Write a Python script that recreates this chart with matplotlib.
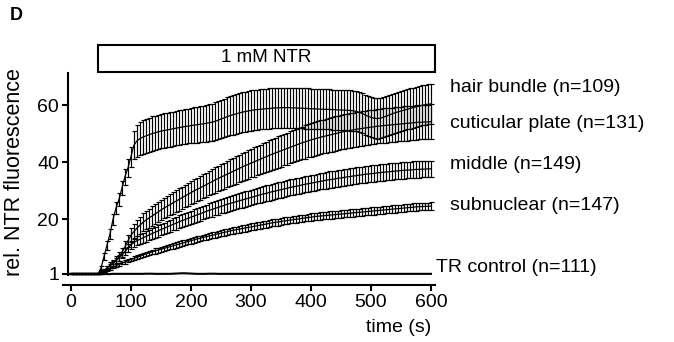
import numpy as np
import matplotlib
matplotlib.use("Agg")
import matplotlib.pyplot as plt
from matplotlib.patches import Rectangle
from matplotlib.transforms import blended_transform_factory

plt.rcParams['font.family'] = ['Liberation Sans', 'DejaVu Sans']

# time base: one frame every 5 s
time_s = np.arange(0, 605, 5)

hair_bundle = [
    1.0, 1.0, 1.0, 1.0, 1.0, 1.0, 1.0, 1.0, 1.0, 1.0,
    3, 7, 11, 15, 20, 24, 27, 31, 35, 38,
    42, 46, 47.5, 48.3, 48.8, 49.2, 49.6, 50, 50.3, 50.6,
    50.9, 51.1, 51.3, 51.5, 51.7, 51.9, 52.1, 52.3, 52.5, 52.6,
    52.8, 53, 53.1, 53.3, 53.4, 53.6, 53.8, 54, 54.3, 54.7,
    55.1, 55.5, 55.9, 56.3, 56.6, 56.9, 57.2, 57.5, 57.7, 57.9,
    58.1, 58.3, 58.4, 58.5, 58.6, 58.7, 58.8, 58.9, 59, 59,
    59.1, 59.1, 59.1, 59.1, 59, 59, 58.9, 58.9, 58.8, 58.8,
    58.7, 58.7, 58.6, 58.6, 58.5, 58.5, 58.5, 58.4, 58.4, 58.3,
    58.3, 58.2, 58.2, 58.1, 58, 57.8, 57.5, 57.1, 56.6, 56.1,
    55.7, 55.4, 55.3, 55.4, 55.7, 56.1, 56.5, 56.9, 57.3, 57.6,
    57.9, 58.2, 58.5, 58.8, 59.1, 59.4, 59.6, 59.9, 60.1, 60.3,
    60.4,
]
hair_bundle_err = [
    0.2, 0.2, 0.2, 0.2, 0.2, 0.2, 0.2, 0.2, 0.2, 0.2,
    0.8, 1.2, 1.5, 1.8, 2, 2.2, 2.4, 2.6, 2.8, 3,
    3.5, 5, 5.5, 5.8, 6, 6, 6, 6, 6, 6,
    6, 6, 6, 6, 6, 6, 6, 6, 6, 6,
    6.2, 6.2, 6.3, 6.3, 6.4, 6.4, 6.5, 6.5, 6.6, 6.6,
    6.7, 6.7, 6.8, 6.8, 6.9, 6.9, 7, 7, 7, 7,
    7, 7, 7, 7, 7, 7, 7, 7, 7, 7,
    7, 7, 7, 7, 7, 7, 7, 7, 7, 7,
    7, 7, 7, 7, 7, 7, 7, 7, 7, 7,
    7, 7, 7, 7, 7, 7, 7, 7, 7, 7,
    7, 7, 7, 7, 7, 7, 7, 7, 7, 7,
    7, 7, 7, 7, 7, 7, 7, 7, 7, 7,
    7,
]

cuticular_plate = [
    1.0, 1.0, 1.0, 1.0, 1.0, 1.0, 1.0, 1.0, 1.0, 1.0,
    1.5, 2, 3, 4, 4.8, 5.8, 7, 8.5, 10.5, 12.5,
    14.5, 15.8, 17, 18, 19, 19.8, 20.5, 21.2, 21.9, 22.6,
    23.3, 24, 24.6, 25.2, 25.8, 26.4, 27, 27.6, 28.2, 28.8,
    29.4, 30, 30.5, 31, 31.6, 32.1, 32.7, 33.2, 33.8, 34.3,
    34.8, 35.3, 35.8, 36.3, 36.8, 37.3, 37.8, 38.3, 38.8, 39.2,
    39.7, 40.1, 40.6, 41, 41.5, 41.9, 42.4, 42.8, 43.2, 43.6,
    44, 44.4, 44.8, 45.2, 45.6, 46, 46.4, 46.8, 47.1, 47.5,
    47.8, 48.1, 48.4, 48.7, 49, 49.2, 49.5, 49.7, 50, 50.2,
    50.5, 50.7, 50.9, 51.1, 51.3, 51.5, 51.7, 51.8, 52, 52.1,
    52.3, 52.4, 52.6, 52.7, 52.8, 52.9, 53, 53.1, 53.2, 53.3,
    53.4, 53.5, 53.6, 53.7, 53.8, 53.9, 54, 54, 54.1, 54.1,
    54.2,
]
cuticular_plate_err = [
    0.2, 0.2, 0.2, 0.2, 0.2, 0.2, 0.2, 0.2, 0.2, 0.2,
    0.5, 0.6, 0.8, 1, 1.1, 1.3, 1.5, 1.7, 2, 2.2,
    2.5, 2.7, 2.9, 3, 3.1, 3.2, 3.3, 3.4, 3.5, 3.5,
    3.6, 3.6, 3.7, 3.7, 3.8, 3.8, 3.9, 3.9, 4, 4,
    4, 4.1, 4.1, 4.2, 4.2, 4.3, 4.3, 4.4, 4.4, 4.5,
    4.5, 4.6, 4.6, 4.7, 4.7, 4.8, 4.8, 4.9, 4.9, 5,
    5, 5.1, 5.1, 5.2, 5.2, 5.3, 5.3, 5.4, 5.4, 5.5,
    5.5, 5.5, 5.6, 5.6, 5.6, 5.7, 5.7, 5.7, 5.8, 5.8,
    5.8, 5.8, 5.9, 5.9, 5.9, 5.9, 6, 6, 6, 6,
    6, 6, 6, 6, 6, 6, 6, 6, 6, 6,
    6, 6, 6, 6, 6, 6, 6, 6, 6, 6,
    6, 6, 6, 6, 6, 6, 6, 6, 6, 6,
    6,
]

middle = [
    1.0, 1.0, 1.0, 1.0, 1.0, 1.0, 1.0, 1.0, 1.0, 1.0,
    1.5, 2.2, 3, 3.8, 4.7, 5.6, 6.6, 7.7, 8.8, 10,
    11.2, 12, 12.6, 13.1, 13.6, 14.1, 14.6, 15.1, 15.5, 16,
    16.5, 16.9, 17.4, 17.8, 18.3, 18.7, 19.2, 19.6, 20, 20.4,
    20.8, 21.2, 21.6, 22, 22.4, 22.8, 23.2, 23.5, 23.9, 24.2,
    24.6, 24.9, 25.3, 25.6, 25.9, 26.2, 26.5, 26.8, 27.1, 27.4,
    27.7, 28, 28.3, 28.6, 28.9, 29.1, 29.4, 29.7, 29.9, 30.2,
    30.4, 30.7, 30.9, 31.2, 31.4, 31.6, 31.8, 32.1, 32.3, 32.5,
    32.7, 32.9, 33.1, 33.3, 33.5, 33.7, 33.9, 34, 34.2, 34.4,
    34.5, 34.7, 34.9, 35, 35.2, 35.3, 35.5, 35.6, 35.8, 35.9,
    36, 36.1, 36.3, 36.4, 36.5, 36.6, 36.7, 36.8, 36.9, 37,
    37.1, 37.2, 37.3, 37.3, 37.4, 37.5, 37.5, 37.6, 37.6, 37.7,
    37.7,
]
middle_err = [
    0.2, 0.2, 0.2, 0.2, 0.2, 0.2, 0.2, 0.2, 0.2, 0.2,
    0.4, 0.5, 0.6, 0.7, 0.8, 0.9, 1, 1.1, 1.2, 1.3,
    1.4, 1.5, 1.6, 1.7, 1.8, 1.8, 1.9, 1.9, 2, 2,
    2, 2, 2.1, 2.1, 2.1, 2.2, 2.2, 2.2, 2.3, 2.3,
    2.3, 2.3, 2.4, 2.4, 2.4, 2.4, 2.5, 2.5, 2.5, 2.5,
    2.5, 2.5, 2.6, 2.6, 2.6, 2.6, 2.6, 2.7, 2.7, 2.7,
    2.7, 2.7, 2.7, 2.7, 2.7, 2.8, 2.8, 2.8, 2.8, 2.8,
    2.8, 2.8, 2.8, 2.8, 2.8, 2.8, 2.8, 2.8, 2.8, 2.8,
    2.8, 2.8, 2.8, 2.8, 2.9, 2.9, 2.9, 2.9, 2.9, 2.9,
    2.9, 2.9, 2.9, 2.9, 2.9, 2.9, 2.9, 2.9, 2.9, 2.9,
    2.9, 2.9, 2.9, 2.9, 2.9, 2.9, 2.9, 2.9, 2.9, 2.9,
    2.9, 2.9, 2.9, 2.9, 2.9, 2.9, 2.9, 2.9, 2.9, 2.9,
    2.9,
]

subnuclear = [
    1.0, 1.0, 1.0, 1.0, 1.0, 1.0, 1.0, 1.0, 1.0, 1.0,
    1.3, 1.8, 2.3, 2.8, 3.3, 3.8, 4.3, 4.8, 5.2, 5.6,
    6, 6.4, 6.8, 7.2, 7.6, 8, 8.3, 8.7, 9, 9.3,
    9.6, 9.9, 10.2, 10.5, 10.8, 11.1, 11.4, 11.7, 12, 12.3,
    12.6, 12.9, 13.2, 13.4, 13.7, 14, 14.2, 14.5, 14.7, 15,
    15.2, 15.5, 15.7, 16, 16.2, 16.4, 16.6, 16.8, 17, 17.2,
    17.4, 17.6, 17.8, 18, 18.2, 18.4, 18.6, 18.8, 19, 19.1,
    19.3, 19.5, 19.6, 19.8, 19.9, 20.1, 20.2, 20.4, 20.5, 20.7,
    20.8, 21, 21.1, 21.2, 21.3, 21.4, 21.5, 21.6, 21.7, 21.8,
    21.9, 22, 22.1, 22.2, 22.3, 22.4, 22.5, 22.6, 22.7, 22.8,
    22.9, 23, 23.1, 23.2, 23.3, 23.4, 23.5, 23.6, 23.7, 23.8,
    23.9, 24, 24.1, 24.2, 24.3, 24.4, 24.5, 24.5, 24.6, 24.6,
    24.7,
]
subnuclear_err = [
    0.1, 0.1, 0.1, 0.1, 0.1, 0.1, 0.1, 0.1, 0.1, 0.1,
    0.2, 0.3, 0.3, 0.4, 0.4, 0.5, 0.5, 0.5, 0.6, 0.6,
    0.6, 0.7, 0.7, 0.7, 0.8, 0.8, 0.8, 0.8, 0.9, 0.9,
    0.9, 0.9, 0.9, 0.9, 1, 1, 1, 1, 1, 1,
    1, 1, 1, 1, 1, 1.1, 1.1, 1.1, 1.1, 1.1,
    1.1, 1.1, 1.1, 1.1, 1.1, 1.1, 1.2, 1.2, 1.2, 1.2,
    1.2, 1.2, 1.2, 1.2, 1.2, 1.2, 1.2, 1.2, 1.2, 1.2,
    1.2, 1.2, 1.2, 1.2, 1.2, 1.2, 1.2, 1.2, 1.2, 1.2,
    1.3, 1.3, 1.3, 1.3, 1.3, 1.3, 1.3, 1.3, 1.3, 1.3,
    1.3, 1.3, 1.3, 1.3, 1.3, 1.3, 1.3, 1.3, 1.3, 1.3,
    1.3, 1.3, 1.3, 1.3, 1.3, 1.3, 1.3, 1.3, 1.3, 1.3,
    1.3, 1.3, 1.3, 1.3, 1.3, 1.3, 1.3, 1.3, 1.3, 1.3,
    1.3,
]

tr_control = [
    1.0, 1.0, 1.0, 1.0, 1.0, 1.0, 1.0, 1.0, 1.0, 1.0,
    1.0, 1.0, 0.9, 0.9, 1.0, 1.0, 1.0, 1.0, 1.0, 1.0,
    1.0, 1.0, 1.0, 1.0, 1.0, 1.05, 1.05, 1.05, 1.0, 1.0,
    1.0, 1.0, 1.0, 1.0, 1.05, 1.1, 1.15, 1.2, 1.2, 1.15,
    1.1, 1.05, 1.0, 1.0, 1.0, 1.0, 1.05, 1.05, 1.05, 1.0,
    1.0, 1.0, 1.0, 1.0, 1.0, 1.0, 1.0, 1.0, 1.0, 1.0,
    1.0, 1.0, 1.0, 1.0, 1.0, 1.0, 1.0, 1.0, 1.0, 1.0,
    1.0, 1.0, 1.0, 1.0, 1.0, 1.0, 1.0, 1.0, 1.0, 1.0,
    1.0, 1.0, 1.0, 1.0, 1.0, 1.0, 1.0, 1.0, 1.0, 1.0,
    1.0, 1.0, 1.0, 1.0, 1.0, 1.0, 1.0, 1.0, 1.0, 1.0,
    1.0, 1.0, 1.0, 1.0, 1.0, 1.0, 1.0, 1.0, 1.0, 1.0,
    1.0, 1.0, 1.0, 1.0, 1.0, 1.0, 1.0, 1.0, 1.0, 1.0,
    1.0,
]

series_labels = ["hair bundle (n=109)", "cuticular plate (n=131)",
                 "middle (n=149)", "subnuclear (n=147)"]
tr_label = "TR control (n=111)"
y_ticks = [1, 20, 40, 60]
x_ticks = [0, 100, 200, 300, 400, 500, 600]
ntr_start, ntr_end = 45, 606

W, H = 674, 342
fig = plt.figure(figsize=(W / 100, H / 100), dpi=100)
# axes spans px 63..435 horizontally, 73..275 vertically
ax = fig.add_axes([63 / W, (H - 275) / H, 372 / W, 202 / H])
ax.set_xlim(-13.3, 606.7)
ax.set_ylim(0.6, 71.2)

groups = [
    (subnuclear, subnuclear_err),
    (middle, middle_err),
    (cuticular_plate, cuticular_plate_err),
    (hair_bundle, hair_bundle_err),
]
for mean, err in groups:
    ax.errorbar(time_s, mean, yerr=err, color="black", lw=0.9,
                elinewidth=0.85, capsize=1.8, capthick=0.85)

ax.plot(time_s, tr_control, color="black", lw=1.5, clip_on=False)

for s in ["top", "right"]:
    ax.spines[s].set_visible(False)
ax.spines["left"].set_position(("data", -5))
ax.spines["left"].set_bounds(0.6, 71.2)
ax.spines["bottom"].set_position(("outward", 7.5))
for s in ["left", "bottom"]:
    ax.spines[s].set_linewidth(1.5)

ax.set_yticks(y_ticks)
ax.set_xticks(x_ticks)
ax.tick_params(width=1.5, length=4.5, labelsize=14, pad=2)

# NTR application bar above the plot
trans = blended_transform_factory(ax.transData, fig.transFigure)
ax.add_patch(Rectangle((ntr_start, (H - 72) / H), ntr_end - ntr_start, 27 / H,
                       transform=trans, fill=False, lw=1.5, clip_on=False))
ax.text((ntr_start + ntr_end) / 2, (H - 58) / H, "1 mM NTR", transform=trans,
        ha="center", va="center", fontsize=13.5)

label_y = [88, 123, 165, 206]
for lab, py in zip(series_labels, label_y):
    fig.text(450 / W, (H - py) / H, lab, ha="left", va="center", fontsize=14)
fig.text(436 / W, (H - 268) / H, tr_label, ha="left", va="center", fontsize=14)

fig.text(431 / W, (H - 328) / H, "time (s)", ha="right", va="center", fontsize=14)
fig.text(15 / W, (H - 172) / H, "rel. NTR fluorescence", rotation=90,
         ha="center", va="center", fontsize=15.5)
fig.text(10 / W, (H - 15) / H, "D", ha="left", va="center", fontsize=13,
         fontweight="bold")

fig.savefig("out.png", dpi=100)
